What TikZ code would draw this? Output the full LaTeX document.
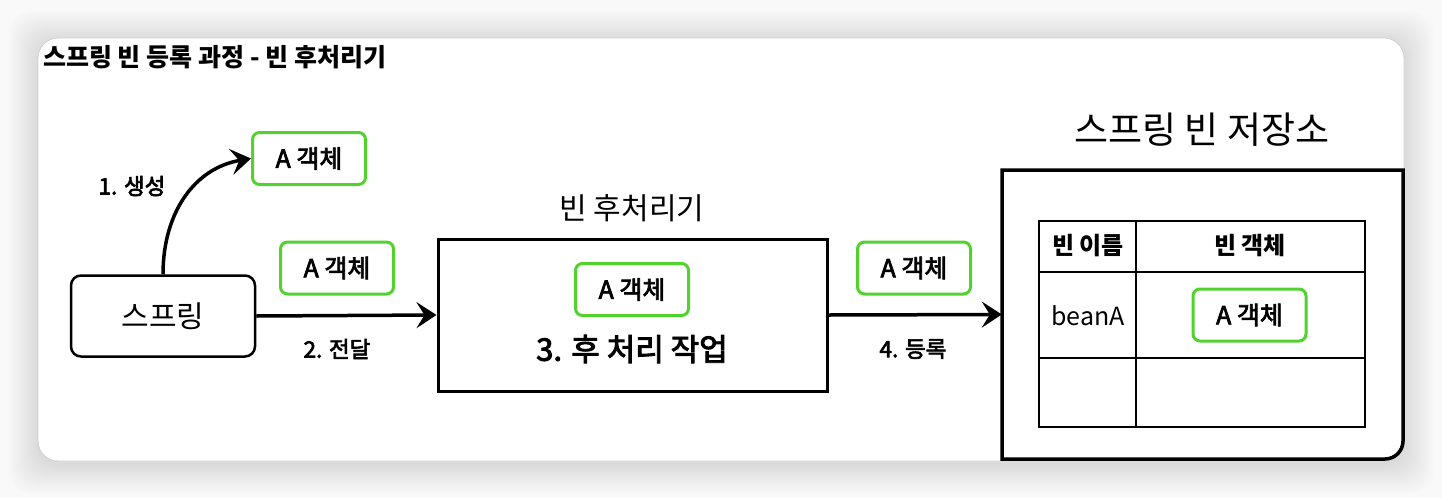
\documentclass[tikz,border=0pt]{standalone}
\usepackage{fontspec}
\setmainfont{Noto Sans CJK KR}
\newfontfamily\krmed{Noto Sans CJK KR}[FakeBold=3]
\usetikzlibrary{arrows.meta}
\definecolor{bgc}{HTML}{F9F9F9}
\definecolor{grn}{HTML}{52D22E}
\begin{document}
\begin{tikzpicture}[x=1pt,y=-1pt,
  gbox/.style={draw=grn, line width=3pt, rounded corners=7pt, minimum width=113pt, minimum height=52pt, inner sep=0pt, font=\krmed\fontsize{25pt}{28pt}\selectfont},
  lbl/.style={inner sep=0pt, font=\krmed\fontsize{22.5pt}{26pt}\selectfont},
  arr/.style={line width=3.5pt, -{Stealth[length=20pt, width=26pt, inset=8pt]}},
  plain/.style={inner sep=0pt},
  hdr/.style={inner sep=0pt, font=\bfseries\fontsize{24pt}{28pt}\selectfont}]
\useasboundingbox (0,0) rectangle (1442,498);
\fill[bgc] (0,0) rectangle (1442,498);
% card shadow
\foreach \i in {1,...,30}{
  \fill[black, opacity=0.0045, rounded corners=22pt] (38-\i,38-\i+3) rectangle (1404+\i,461+\i+3);
}
\fill[white, rounded corners=20pt] (38,38) rectangle (1404,461);
\draw[black!18, line width=0.8pt, rounded corners=20pt] (38,38) rectangle (1404,461);

% title
\node[plain, anchor=west, font=\bfseries\fontsize{25pt}{28pt}\selectfont] (title) at (43,57) {스프링 빈 등록 과정 - 빈 후처리기};

% spring
\node[draw, line width=2.5pt, rounded corners=10pt, minimum width=184pt, minimum height=81pt, font=\fontsize{30pt}{34pt}\selectfont] (spring) at (163,316) {스프링};

% green objects
\node[gbox] (a1) at (309,158.5) {A 객체};
\node[lbl] (l1) at (132,186) {1. 생성};
\node[gbox] (a2) at (337,268) {A 객체};
\node[lbl] (l2) at (337,349) {2. 전달};

% bean post processor
\node[draw, line width=3pt, minimum width=389pt, minimum height=152pt] (bpp) at (632.5,315) {};
\node[plain, font=\fontsize{30pt}{34pt}\selectfont] (bppt) at (632,208) {빈 후처리기};
\node[gbox] (a3) at (632,289.5) {A 객체};
\node[plain, font=\krmed\fontsize{31pt}{35pt}\selectfont] (work) at (632,349) {3. 후 처리 작업};

\node[gbox] (a4) at (914,268) {A 객체};
\node[lbl] (l4) at (913,349) {4. 등록};

% storage
\node[minimum width=401pt, minimum height=289pt, inner sep=0pt] (store) at (1202.5,314.5) {};
\draw[line width=3.5pt] (1002,170) -- (1403,170) -- (1403,441) arc (0:90:18) -- (1002,459) -- cycle;
\node[plain, font=\fontsize{37pt}{41pt}\selectfont] (storet) at (1202,130) {스프링 빈 저장소};

% table
\draw[line width=1.5pt] (1039,221) rectangle (1365,427);
\draw[line width=1.3pt] (1136,221) -- (1136,427);
\draw[line width=2.5pt] (1039,272) -- (1365,272);
\draw[line width=1.2pt] (1039,358) -- (1365,358);
\node[hdr] (h1) at (1088,246) {빈 이름};
\node[hdr] (h2) at (1250,246) {빈 객체};
\node[plain, font=\fontsize{25pt}{28pt}\selectfont] (bn) at (1088,316) {beanA};
\node[gbox] (a5) at (1249.5,315) {A 객체};

% arrows
\draw[arr] (spring.north) .. controls (163,212) and (195,168) .. (a1.west);
\draw[arr] (spring.east) -- (bpp.west);
\draw[arr] (bpp.east) -- (store.west);
\end{tikzpicture}
\end{document}
